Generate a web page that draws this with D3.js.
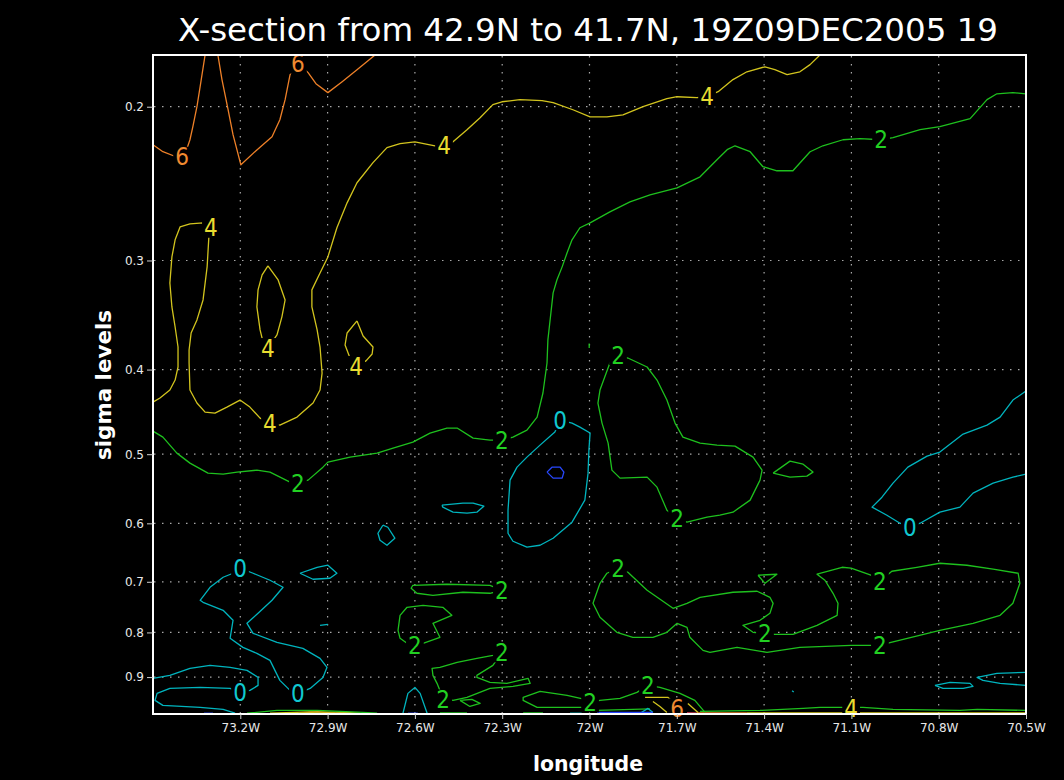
<!DOCTYPE html>
<html>
<head>
<meta charset="utf-8">
<style>
  body { margin: 0; background: #000; }
  svg { display: block; }
  .tick text { fill: #e8e8e8; font-family: "DejaVu Sans", sans-serif; font-size: 12px; }
  .tick line { stroke: #d0d0d0; }
  .domain { display: none; }
</style>
</head>
<body>
<div id="chart"></div>
<script src="https://d3js.org/d3.v7.min.js"></script>
<script>
// longitude in degrees West, sigma level
var lonTicks = [73.2, 72.9, 72.6, 72.3, 72.0, 71.7, 71.4, 71.1, 70.8, 70.5];
var sigmaTicks = [0.2, 0.3, 0.4, 0.5, 0.6, 0.7, 0.8, 0.9];
var levels = [-2, 0, 2, 4, 6, 8];

// contour lines, one array per level
var contour6 = [
  [[73.500,0.2211],[73.466,0.2252],[73.421,0.2282],[73.387,0.2252],[73.373,0.2182],[73.363,0.2108],[73.349,0.2000],[73.338,0.1897],[73.321,0.1745]],
  [[73.277,0.1745],[73.263,0.1862],[73.242,0.2016],[73.225,0.2153],[73.198,0.2331],[73.146,0.2246],[73.091,0.2165],[73.064,0.2070],[73.046,0.1963],[73.029,0.1838],[73.005,0.1776],[72.967,0.1828],[72.940,0.1882],[72.899,0.1927],[72.850,0.1872],[72.799,0.1814],[72.737,0.1745]],
  [[72.995,0.990],[72.933,0.9866],[72.875,0.990]],
  [[71.631,0.989],[71.459,0.989]]
];
var labels6 = [[73.400,0.2282],[73.002,0.1785],[71.699,0.9775]];

var contour4 = [
  [[73.500,0.4358],[73.476,0.4312],[73.442,0.4222],[73.424,0.4112],[73.414,0.3973],[73.414,0.3769],[73.424,0.3575],[73.435,0.3391],[73.442,0.3183],[73.435,0.2972],[73.424,0.2841],[73.407,0.2746],[73.373,0.2724],[73.328,0.2717],[73.301,0.2752],[73.308,0.2819],[73.314,0.3051],[73.328,0.3329],[73.349,0.3509],[73.369,0.3632],[73.376,0.3799],[73.376,0.3931],[73.373,0.4222],[73.349,0.4369],[73.321,0.4475],[73.287,0.4487],[73.246,0.4416],[73.201,0.4335],[73.167,0.4416],[73.132,0.4546],[73.098,0.4606],[73.064,0.4631],[73.005,0.4534],[72.950,0.4369],[72.926,0.4222],[72.919,0.4037],[72.926,0.3769],[72.936,0.3603],[72.954,0.3391],[72.954,0.3242],[72.926,0.3100],[72.899,0.2972],[72.868,0.2752],[72.833,0.2577],[72.799,0.2444],[72.744,0.2318],[72.696,0.2228],[72.651,0.2205],[72.600,0.2194],[72.531,0.2217],[72.500,0.2217],[72.469,0.2194],[72.421,0.2125],[72.376,0.2059],[72.332,0.1989],[72.301,0.1974],[72.239,0.1963],[72.163,0.1968],[72.125,0.1979],[72.057,0.2016],[71.998,0.2054],[71.940,0.2054],[71.885,0.2043],[71.816,0.2000],[71.734,0.1958],[71.699,0.1948],[71.631,0.1953],[71.596,0.1948],[71.558,0.1922],[71.507,0.1862],[71.459,0.1824],[71.397,0.1800],[71.363,0.1814],[71.321,0.1838],[71.277,0.1824],[71.242,0.1790],[71.208,0.1745]],
  [[73.105,0.3043],[73.125,0.3116],[73.139,0.3242],[73.143,0.3391],[73.132,0.3603],[73.122,0.3719],[73.105,0.3779],[73.074,0.3651],[73.057,0.3481],[73.046,0.3329],[73.070,0.3158],[73.105,0.3043]],
  [[72.799,0.3518],[72.833,0.3632],[72.840,0.3749],[72.823,0.3880],[72.802,0.3962],[72.768,0.3910],[72.747,0.3839],[72.744,0.3769],[72.778,0.3661],[72.799,0.3518]],
  [[71.809,0.9495],[71.730,0.9495],[71.710,0.9622]],
  [[71.782,0.9596],[71.758,0.9724],[71.734,0.9879]],
  [[71.662,0.9647],[71.627,0.9879]],
  [[73.098,0.990],[72.960,0.9866],[72.840,0.9879],[72.789,0.990]],
  [[71.459,0.989],[70.500,0.989]]
];
var labels4 = [[73.301,0.2752],[73.098,0.4606],[72.500,0.2217],[71.596,0.1948],[73.105,0.3779],[72.802,0.3962],[71.101,0.9775]];

var contour2 = [
  [[73.500,0.4705],[73.466,0.4780],[73.418,0.4986],[73.373,0.5119],[73.311,0.5256],[73.259,0.5270],[73.211,0.5242],[73.143,0.5215],[73.098,0.5242],[73.029,0.5383],[73.002,0.5397],[72.967,0.5354],[72.916,0.5174],[72.899,0.5106],[72.823,0.5039],[72.730,0.4986],[72.675,0.4920],[72.607,0.4843],[72.548,0.4729],[72.490,0.4667],[72.455,0.4667],[72.400,0.4792],[72.342,0.4818],[72.301,0.4818],[72.263,0.4780],[72.215,0.4692],[72.180,0.4534],[72.160,0.4255],[72.146,0.3931],[72.143,0.3700],[72.125,0.3268],[72.112,0.3158],[72.094,0.3051],[72.077,0.2940],[72.060,0.2841],[72.033,0.2752],[71.998,0.2717],[71.930,0.2639],[71.861,0.2570],[71.792,0.2523],[71.699,0.2477],[71.620,0.2406],[71.562,0.2300],[71.527,0.2240],[71.500,0.2217],[71.448,0.2252],[71.404,0.2343],[71.356,0.2368],[71.301,0.2368],[71.242,0.2252],[71.198,0.2217],[71.129,0.2182],[71.070,0.2176],[70.998,0.2182],[70.957,0.2170],[70.864,0.2125],[70.796,0.2108],[70.692,0.2064],[70.634,0.1963],[70.600,0.1933],[70.545,0.1927],[70.500,0.1933]],
  [[72.001,0.3734],[72.001,0.3779]],
  [[71.902,0.3849],[71.930,0.3931],[71.964,0.4222],[71.971,0.4369],[71.957,0.4606],[71.936,0.4856],[71.923,0.5215],[71.895,0.5326],[71.802,0.5312],[71.768,0.5454],[71.734,0.5795],[71.699,0.5920],[71.665,0.5982],[71.596,0.5904],[71.552,0.5873],[71.507,0.5826],[71.448,0.5644],[71.414,0.5354],[71.407,0.5215],[71.438,0.5039],[71.500,0.4895],[71.562,0.4882],[71.620,0.4856],[71.679,0.4780],[71.706,0.4606],[71.734,0.4335],[71.768,0.4112],[71.802,0.3973],[71.868,0.3880],[71.902,0.3849]],
  [[71.369,0.5256],[71.311,0.5092],[71.266,0.5133],[71.232,0.5242],[71.253,0.5298],[71.311,0.5312],[71.369,0.5256]],
  [[71.002,0.6990],[71.033,0.6880],[71.101,0.6754],[71.132,0.6737],[71.218,0.6862],[71.191,0.6972],[71.163,0.7216],[71.146,0.7409],[71.149,0.7647],[71.218,0.7851],[71.301,0.8040],[71.363,0.8040],[71.397,0.8019],[71.438,0.7998],[71.473,0.7851],[71.414,0.7748],[71.380,0.7607],[71.369,0.7409],[71.380,0.7292],[71.424,0.7177],[71.507,0.7196],[71.620,0.7292],[71.665,0.7409],[71.713,0.7507],[71.802,0.7158],[71.868,0.6826],[71.902,0.6754],[71.940,0.6844],[71.964,0.7028],[71.988,0.7409],[71.964,0.7687],[71.906,0.7998],[71.851,0.8104],[71.782,0.8104],[71.734,0.7998],[71.699,0.7810],[71.665,0.7893],[71.655,0.8104],[71.610,0.8387],[71.586,0.8432],[71.493,0.8321],[71.390,0.8432],[71.277,0.8321],[71.101,0.8277],[71.002,0.8277],[70.964,0.8212],[70.796,0.7956],[70.682,0.7810],[70.589,0.7647],[70.545,0.7409],[70.521,0.7028],[70.527,0.6844],[70.613,0.6772],[70.703,0.6701],[70.796,0.6666],[70.875,0.6737],[70.961,0.6808],[71.002,0.6990]],
  [[71.421,0.6880],[71.356,0.6862],[71.397,0.7028],[71.421,0.6880]],
  [[72.301,0.7158],[72.342,0.7065],[72.490,0.7046],[72.607,0.7065],[72.613,0.7121],[72.593,0.7215],[72.538,0.7254],[72.435,0.7196],[72.342,0.7215],[72.301,0.7158]],
  [[72.600,0.8277],[72.572,0.8233],[72.514,0.8104],[72.538,0.7810],[72.473,0.7647],[72.504,0.7487],[72.572,0.7448],[72.627,0.7487],[72.651,0.7647],[72.658,0.7956],[72.651,0.8125],[72.627,0.8233],[72.600,0.8277]],
  [[72.301,0.8432],[72.332,0.8499],[72.387,0.8567],[72.455,0.8658],[72.514,0.8772],[72.541,0.8795],[72.538,0.8959],[72.524,0.9150],[72.503,0.9520],[72.469,0.9571],[72.421,0.9495],[72.342,0.9272],[72.263,0.9223],[72.204,0.9150],[72.211,0.9030],[72.284,0.9150],[72.342,0.9126],[72.387,0.9007],[72.387,0.8959],[72.332,0.8726],[72.301,0.8432]],
  [[72.445,0.9571],[72.404,0.9546],[72.376,0.9647],[72.411,0.9724],[72.445,0.9571]],
  [[71.603,0.9879],[71.638,0.9571],[71.689,0.9395],[71.758,0.9248],[71.799,0.9199],[71.837,0.9370],[71.895,0.9520],[71.964,0.9571],[71.998,0.9622],[72.016,0.9546],[72.077,0.9445],[72.170,0.9346],[72.228,0.9495],[72.228,0.9571],[72.180,0.9749],[72.057,0.9749],[72.022,0.9749]],
  [[71.620,0.9853],[71.414,0.9827],[71.266,0.9775],[71.208,0.9749],[71.129,0.9749],[71.060,0.9749],[70.957,0.9801],[70.727,0.9827],[70.668,0.9801],[70.500,0.9827]],
  [[73.177,0.990],[73.074,0.9827],[72.936,0.9827],[72.778,0.9879],[72.730,0.990]],
  [[72.514,0.9892],[72.421,0.9892]],
  [[72.228,0.9892],[72.160,0.9892]],
  [[71.974,0.9827],[71.792,0.9788]]
];
var labels2 = [[73.002,0.5397],[72.301,0.4818],[70.998,0.2182],[71.902,0.3849],[71.699,0.5920],[71.002,0.6990],[71.002,0.8277],[71.397,0.8019],[71.902,0.6754],[72.301,0.7158],[72.600,0.8277],[72.301,0.8432],[72.503,0.9546],[71.799,0.9199],[71.998,0.9622]];

var contour0 = [
  [[72.101,0.4570],[72.060,0.4606],[72.033,0.4655],[71.998,0.4729],[72.002,0.4946],[72.005,0.5256],[72.016,0.5644],[72.060,0.5982],[72.125,0.6240],[72.170,0.6357],[72.215,0.6390],[72.263,0.6290],[72.280,0.6159],[72.280,0.5795],[72.273,0.5354],[72.249,0.5174],[72.215,0.5039],[72.170,0.4882],[72.119,0.4717],[72.101,0.4570]],
  [[72.507,0.5719],[72.435,0.5689],[72.400,0.5689],[72.363,0.5734],[72.387,0.5826],[72.421,0.5842],[72.469,0.5826],[72.504,0.5749],[72.507,0.5719]],
  [[72.710,0.6030],[72.693,0.6062],[72.669,0.6240],[72.696,0.6357],[72.720,0.6273],[72.727,0.6159],[72.710,0.6030]],
  [[72.995,0.6844],[72.936,0.6737],[72.899,0.6701],[72.868,0.6844],[72.892,0.6935],[72.950,0.6953],[72.995,0.6844]],
  [[72.926,0.7851],[72.899,0.7830]],
  [[73.201,0.6754],[73.156,0.6844],[73.098,0.6972],[73.053,0.7102],[73.091,0.7350],[73.139,0.7607],[73.177,0.7810],[73.156,0.8019],[73.074,0.8212],[72.985,0.8343],[72.926,0.8566],[72.902,0.8772],[72.916,0.9007],[72.960,0.9272],[73.002,0.9395],[73.029,0.9321],[73.064,0.9078],[73.098,0.8612],[73.143,0.8454],[73.191,0.8321],[73.235,0.8125],[73.225,0.7748],[73.259,0.7547],[73.328,0.7389],[73.338,0.7350],[73.304,0.7102],[73.259,0.6917],[73.225,0.6844],[73.201,0.6754]],
  [[73.500,0.9030],[73.442,0.8959],[73.373,0.8795],[73.304,0.8726],[73.235,0.8772],[73.177,0.8842],[73.139,0.9007],[73.139,0.9199],[73.167,0.9321],[73.201,0.9370],[73.235,0.9272],[73.338,0.9248],[73.442,0.9272],[73.486,0.9395],[73.493,0.9571],[73.466,0.9698],[73.338,0.9749],[73.259,0.9801],[73.218,0.990]],
  [[70.500,0.4233],[70.545,0.4335],[70.589,0.4534],[70.634,0.4631],[70.716,0.4742],[70.796,0.4972],[70.840,0.5025],[70.906,0.5174],[70.957,0.5397],[70.995,0.5600],[71.029,0.5749],[70.978,0.5873],[70.933,0.5998],[70.899,0.6062],[70.864,0.5998],[70.796,0.5826],[70.727,0.5749],[70.682,0.5541],[70.613,0.5397],[70.545,0.5312],[70.500,0.5270]],
  [[70.500,0.8888],[70.600,0.8912],[70.668,0.9007],[70.648,0.9078],[70.589,0.9150],[70.500,0.9199]],
  [[70.813,0.9199],[70.761,0.9126],[70.692,0.9150],[70.682,0.9223],[70.716,0.9272],[70.785,0.9272],[70.813,0.9199]],
  [[71.304,0.9330],[71.298,0.9360]],
  [[72.641,0.990],[72.624,0.9395],[72.600,0.9248],[72.582,0.9395],[72.558,0.990]],
  [[71.826,0.990],[71.799,0.9775],[71.782,0.9879]],
  [[72.067,0.990],[72.026,0.990]]
];
var labels0 = [[72.101,0.4570],[70.899,0.6062],[73.201,0.6754],[73.002,0.9395],[73.201,0.9370]];

var contourM2 = [
  [[72.146,0.5242],[72.129,0.5174],[72.101,0.5174],[72.088,0.5242],[72.094,0.5326],[72.125,0.5326],[72.146,0.5242]],
  [[71.974,0.9879],[71.782,0.9879]],
  [[73.325,0.990],[73.294,0.990]],
  [[72.624,0.990],[72.590,0.990]]
];
var contour8 = [
  [[71.665,0.989],[71.631,0.990]]
];

var lineColor = {"-2": "#2848ff", "0": "#00b4be", "2": "#1ec01e", "4": "#d2c41e", "6": "#ee8028", "8": "#f04060"};
var labelColor = {"-2": "#3050ff", "0": "#10c8d0", "2": "#22d022", "4": "#e8dc30", "6": "#f08a30", "8": "#f04060"};

var W = 1064, H = 780;
var svg = d3.select("#chart").append("svg").attr("width", W).attr("height", H)
  .style("background", "#000");

var x = d3.scaleLinear().domain([73.5, 70.5]).range([153, 1026]);
var y = d3.scaleLog().domain([0.1745, 0.992]).range([55, 714]);

svg.append("defs").append("clipPath").attr("id", "plot")
  .append("rect").attr("x", 153).attr("y", 55).attr("width", 873).attr("height", 659);

// grid
var grid = svg.append("g");
grid.selectAll("line.gx").data(lonTicks.slice(0, -1)).enter().append("line")
  .attr("x1", function(d) { return x(d); }).attr("x2", function(d) { return x(d); })
  .attr("y1", 56).attr("y2", 713)
  .attr("stroke", "#a8a8a8").attr("stroke-width", 1.2).attr("stroke-dasharray", "1.5,6.5");
grid.selectAll("line.gy").data(sigmaTicks).enter().append("line")
  .attr("y1", function(d) { return y(d); }).attr("y2", function(d) { return y(d); })
  .attr("x1", 154).attr("x2", 1025)
  .attr("stroke", "#a8a8a8").attr("stroke-width", 1.2).attr("stroke-dasharray", "1.5,6.5");

// contours
var line = d3.line().x(function(d) { return x(d[0]); }).y(function(d) { return y(d[1]); });
var sets = [[contour8, 8], [contour6, 6], [contour4, 4], [contour2, 2], [contour0, 0], [contourM2, -2]];
var cg = svg.append("g").attr("clip-path", "url(#plot)");
sets.forEach(function(s) {
  cg.append("g").selectAll("path").data(s[0]).enter().append("path")
    .attr("d", line)
    .attr("fill", "none")
    .attr("stroke", lineColor[s[1]])
    .attr("stroke-width", 1.3)
    .attr("stroke-linejoin", "round");
});

// contour labels, with the line erased behind them
var lg = svg.append("g");
[[labels6, 6], [labels4, 4], [labels2, 2], [labels0, 0]].forEach(function(s) {
  s[0].forEach(function(p) {
    var g = lg.append("g");
    var t = g.append("text")
      .attr("x", x(p[0])).attr("y", y(p[1]))
      .attr("dy", "0.36em")
      .attr("text-anchor", "middle")
      .attr("font-family", "'Liberation Sans Narrow', 'DejaVu Sans Condensed', 'Liberation Sans', sans-serif")
      .attr("font-size", 24)
      .attr("fill", labelColor[s[1]])
      .text(s[1]);
    var b = t.node().getBBox();
    g.insert("rect", "text")
      .attr("x", b.x - 2).attr("y", y(p[1]) - 10).attr("width", b.width + 4).attr("height", 20)
      .attr("fill", "#000");
  });
});

// frame
svg.append("rect").attr("x", 153).attr("y", 55).attr("width", 873).attr("height", 659)
  .attr("fill", "none").attr("stroke", "#fff").attr("stroke-width", 2);

// axes
svg.append("g").attr("transform", "translate(0,714)")
  .call(d3.axisBottom(x).tickValues(lonTicks).tickSize(5).tickPadding(4)
    .tickFormat(function(d) { return (d === 72 ? "72" : d.toFixed(1)) + "W"; }));
svg.append("g").attr("transform", "translate(153,0)")
  .call(d3.axisLeft(y).tickValues(sigmaTicks).tickSize(6).tickPadding(3)
    .tickFormat(d3.format(".1f")));

// titles
svg.append("text").attr("x", 588).attr("y", 41).attr("text-anchor", "middle")
  .attr("font-family", "'Liberation Sans Narrow', 'DejaVu Sans Condensed', 'Liberation Sans', sans-serif")
  .attr("font-size", 32).attr("fill", "#fff")
  .attr("textLength", 820).attr("lengthAdjust", "spacingAndGlyphs")
  .text("X-section from 42.9N to 41.7N, 19Z09DEC2005 19");

svg.append("text").attr("x", 588).attr("y", 771).attr("text-anchor", "middle")
  .attr("font-family", "'DejaVu Sans', sans-serif").attr("font-weight", "bold")
  .attr("font-size", 22).attr("fill", "#fff")
  .attr("textLength", 110).attr("lengthAdjust", "spacingAndGlyphs")
  .text("longitude");

svg.append("text").attr("transform", "translate(111,385) rotate(-90)").attr("text-anchor", "middle")
  .attr("font-family", "'DejaVu Sans', sans-serif").attr("font-weight", "bold")
  .attr("font-size", 22).attr("fill", "#fff")
  .attr("textLength", 150).attr("lengthAdjust", "spacingAndGlyphs")
  .text("sigma levels");
</script>
</body>
</html>
